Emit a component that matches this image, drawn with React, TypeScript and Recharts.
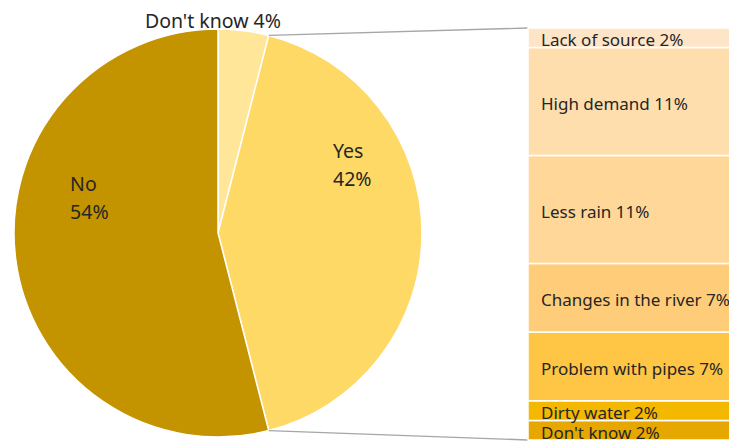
import React from "react";
import { PieChart, Pie, Cell, BarChart, Bar, XAxis, YAxis } from "recharts";

const pieNames = ["Don't know", "Yes", "No"];
const pieValues = [4, 42, 54];
const pieColors = ["#FFE699", "#FFD966", "#C49300"];

const barNames = ["Lack of source", "High demand", "Less rain", "Changes in the river", "Problem with pipes", "Dirty water", "Don't know"];
const barValues = [2, 11, 11, 7, 7, 2, 2];
const barColors = ["#FFE5C8", "#FFDEAE", "#FFD798", "#FFCD7A", "#FFC545", "#F5B800", "#E6A800"];

const W = 729;
const H = 435;
const CX = 210;
const CY = 225;
const R = 204;
const BAR_LEFT = 520;
const BAR_TOP = 20;
const BAR_W = 206;
const BAR_H = 412;
const FONT = "'Noto Sans', 'Open Sans', sans-serif";
const TXT = "#262626";
const PIE_FS = 19.5;
const BAR_FS = 17;

// label layout offsets (fractions of radius), per slice
const pieLabelLayout: Record<string, { dx: number; dy: number; anchor: "start" | "middle"; twoLine: boolean }> = {
  "Don't know": { dx: -0.025, dy: -1.044, anchor: "middle", twoLine: false },
  Yes: { dx: 0.564, dy: -0.407, anchor: "start", twoLine: true },
  No: { dx: -0.725, dy: -0.245, anchor: "start", twoLine: true },
};

const pieData = pieNames.map((n, i) => ({ name: n, value: pieValues[i] }));
const pieTotal = pieValues.reduce((a, b) => a + b, 0);

const barRow: Record<string, any> = { name: "Yes" };
barNames.forEach((n, i) => {
  barRow["s" + i] = barValues[i];
});
const barData = [barRow];

const RAD = Math.PI / 180;
const polar = (cx: number, cy: number, r: number, a: number) => ({
  x: cx + r * Math.cos(-a * RAD),
  y: cy + r * Math.sin(-a * RAD),
});

const renderPieLabel = (p: any) => {
  const { cx, cy, outerRadius, startAngle, endAngle, name, value } = p;
  const lay = pieLabelLayout[name];
  const pct = Math.round((value / pieTotal) * 100) + "%";
  const x = cx + lay.dx * outerRadius;
  const y = cy + lay.dy * outerRadius;
  const els: any[] = [];
  if (name === "Yes") {
    const s = polar(cx, cy, outerRadius, startAngle);
    const e = polar(cx, cy, outerRadius, endAngle);
    els.push(<line key="l1" x1={s.x} y1={s.y} x2={BAR_LEFT} y2={BAR_TOP} stroke="#A6A6A6" strokeWidth={1.3} />);
    els.push(<line key="l2" x1={e.x} y1={e.y} x2={BAR_LEFT} y2={BAR_TOP + BAR_H} stroke="#A6A6A6" strokeWidth={1.3} />);
  }
  if (lay.twoLine) {
    els.push(
      <text key="t" x={x} y={y} textAnchor={lay.anchor} dominantBaseline="central" fill={TXT} fontSize={PIE_FS} fontFamily={FONT}>
        <tspan x={x} dy={0}>{name}</tspan>
        <tspan x={x} dy={28}>{pct}</tspan>
      </text>
    );
  } else {
    els.push(
      <text key="t" x={x} y={y} textAnchor={lay.anchor} dominantBaseline="central" fill={TXT} fontSize={PIE_FS} fontFamily={FONT}>
        {name + " " + pct}
      </text>
    );
  }
  return <g>{els}</g>;
};

const makeBarLabel = (i: number) => (p: any) => {
  const { x, y, height } = p;
  return (
    <text x={x + 13} y={y + height / 2 + 2} textAnchor="start" dominantBaseline="central" fill={TXT} fontSize={BAR_FS} fontFamily={FONT}>
      {barNames[i] + " " + barValues[i] + "%"}
    </text>
  );
};

const barOrder = barNames.map((_, i) => barNames.length - 1 - i);

export default function App() {
  return (
    <div style={{ position: "relative", width: W, height: H }}>
      <style>{`.recharts-surface{overflow:visible !important}.recharts-wrapper{overflow:visible !important}`}</style>
      <div style={{ position: "absolute", left: 0, top: 0 }}>
        <PieChart width={W} height={H} margin={{ top: 0, right: 0, bottom: 0, left: 0 }}>
          <Pie
            data={pieData}
            dataKey="value"
            nameKey="name"
            cx={CX}
            cy={CY}
            outerRadius={R}
            startAngle={90}
            endAngle={-270}
            stroke="#FFFFFF"
            strokeWidth={1.5}
            label={renderPieLabel}
            labelLine={false}
            isAnimationActive={false}
          >
            {pieData.map((d, i) => (
              <Cell key={d.name} fill={pieColors[i]} />
            ))}
          </Pie>
        </PieChart>
      </div>
      <div style={{ position: "absolute", left: BAR_LEFT, top: BAR_TOP }}>
        <BarChart
          width={BAR_W}
          height={BAR_H}
          data={barData}
          margin={{ top: 0, right: 0, bottom: 0, left: 0 }}
          barCategoryGap={0}
        >
          <XAxis dataKey="name" hide />
          <YAxis hide domain={[0, 42]} />
          {barOrder.map((i) => (
            <Bar
              key={i}
              dataKey={"s" + i}
              stackId="a"
              fill={barColors[i]}
              stroke="#FFFFFF"
              strokeWidth={1.5}
              label={makeBarLabel(i)}
              isAnimationActive={false}
            />
          ))}
        </BarChart>
      </div>
    </div>
  );
}
